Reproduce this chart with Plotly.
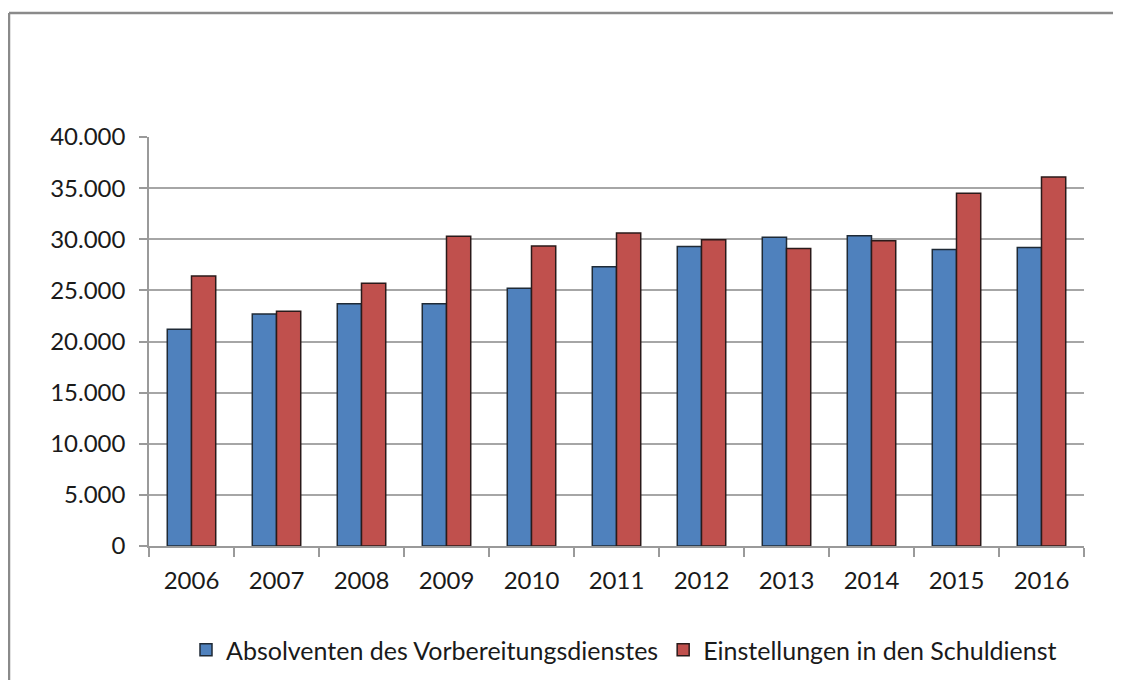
import plotly.graph_objects as go

years = ["2006", "2007", "2008", "2009", "2010", "2011", "2012", "2013", "2014", "2015", "2016"]
absolventen = [21200, 22700, 23700, 23700, 25200, 27300, 29300, 30200, 30350, 29000, 29200]
einstellungen = [26400, 22950, 25700, 30300, 29350, 30600, 29950, 29100, 29850, 34500, 36100]
y_ticks = [0, 5000, 10000, 15000, 20000, 25000, 30000, 35000, 40000]

OFF = 8  # page body margin
W, H = 1121 - OFF, 680
# screen-pixel targets for the plot area
L, R, T, B = 149, 1084, 137, 546
pw, ph = R - L, B - T

def px(x):
    return (x - L) / pw

def py(y):
    return (B - y) / ph

FONT = "Lato, 'Open Sans', sans-serif"
FS = 24

fig = go.Figure()
fig.add_trace(go.Bar(
    x=years, y=absolventen, name="Absolventen des Vorbereitungsdienstes",
    marker=dict(color="#4F81BD", line=dict(color="#1f2a36", width=1.5)),
))
fig.add_trace(go.Bar(
    x=years, y=einstellungen, name="Einstellungen in den Schuldienst",
    marker=dict(color="#C0504D", line=dict(color="#2a1a1a", width=1.5)),
))

fig.update_layout(
    width=W, height=H,
    margin=dict(l=L - OFF, r=W - (R - OFF), t=T - OFF, b=H - (B - OFF), pad=0),
    paper_bgcolor="white", plot_bgcolor="white",
    separators=",.",
    barmode="group", bargap=0.43, bargroupgap=0,
    font=dict(family=FONT, size=FS, color="#1a1a1a"),
    showlegend=True,
    legend=dict(
        orientation="h", x=px(624), xanchor="center", y=py(650), yanchor="middle",
        font=dict(family=FONT, size=25, color="#1a1a1a"),
        bgcolor="rgba(0,0,0,0)",
    ),
    xaxis=dict(
        type="category", tickson="boundaries", ticks="outside", ticklen=9,
        tickcolor="#9a9a9a", tickwidth=1.5,
        showline=True, linecolor="#9a9a9a", linewidth=1.5,
        showgrid=False, ticklabelstandoff=12,
        tickfont=dict(family=FONT, size=FS, color="#1a1a1a"),
    ),
    yaxis=dict(
        range=[0, 40000], tickvals=y_ticks, tickformat=",d",
        ticks="outside", ticklen=8, tickcolor="#9a9a9a", tickwidth=1.5,
        showline=True, linecolor="#9a9a9a", linewidth=1.5,
        showgrid=True, gridcolor="#a6a6a6", gridwidth=1.5,
        zeroline=False, ticklabelstandoff=9,
        tickfont=dict(family=FONT, size=FS, color="#1a1a1a"),
    ),
    shapes=[
        dict(type="line", xref="paper", yref="paper", x0=px(9), x1=px(1140), y0=py(13), y1=py(13),
             line=dict(color="#8a8a8a", width=2.5)),
        dict(type="line", xref="paper", yref="paper", x0=px(9), x1=px(9), y0=py(13), y1=py(700),
             line=dict(color="#8a8a8a", width=2.5)),
    ],
)

fig.write_html("out.html")
